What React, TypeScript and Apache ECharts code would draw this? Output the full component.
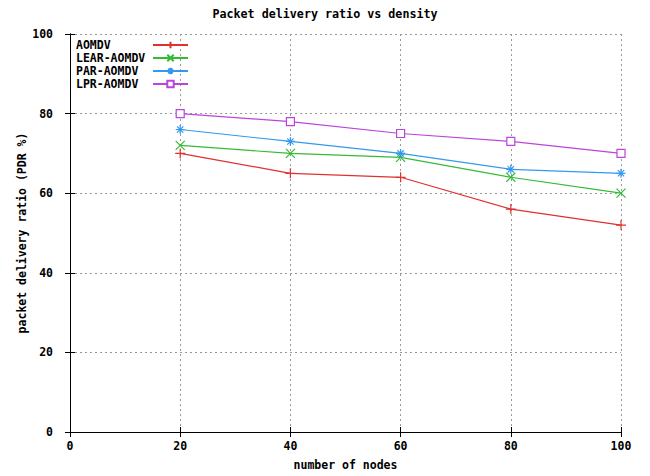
import React, { useEffect, useRef } from "react";
import * as echarts from "echarts";

const nodes = [20, 40, 60, 80, 100];
const aomdv = [70, 65, 64, 56, 52];
const learAomdv = [72, 70, 69, 64, 60];
const parAomdv = [76, 73, 70, 66, 65];
const lprAomdv = [80, 78, 75, 73, 70];

const seriesNames = ["AOMDV", "LEAR-AOMDV", "PAR-AOMDV", "LPR-AOMDV"];
const seriesColors = ["#e03030", "#33bb33", "#3399ee", "#bb44dd"];
const seriesSymbols = [
  "path://M5,0L5,10M0,5L10,5",
  "path://M0,0L10,10M0,10L10,0",
  "path://M5,0L5,10M0,5L10,5M1.5,1.5L8.5,8.5M1.5,8.5L8.5,1.5",
  "path://M0,0L10,0L10,10L0,10Z",
];
const seriesSizes = [10, 9, 9, 8];
const seriesData = [aomdv, learAomdv, parAomdv, lprAomdv];

const FONT = "'DejaVu Sans Mono', 'Liberation Mono', monospace";

export default function App() {
  const ref = useRef<HTMLDivElement>(null);
  useEffect(() => {
    if (!ref.current) return;
    const chart = echarts.init(ref.current, undefined, { renderer: "svg" });
    const txt = { fontFamily: FONT, fontWeight: "bold" as const, fontSize: 11.5, color: "#000" };
    const gridLine = { show: true, lineStyle: { color: "#999", type: [2, 3] as any, width: 1 } };
    chart.setOption({
      animation: false,
      backgroundColor: "#fff",
      title: {
        text: "Packet delivery ratio vs density",
        left: "center",
        top: 3,
        textStyle: { ...txt, fontSize: 11.7 },
      },
      legend: {
        orient: "vertical",
        left: 71,
        top: 34,
        align: "right",
        itemWidth: 35,
        itemHeight: 8,
        itemGap: 1,
        data: seriesNames,
        formatter: (name: string) => "{a|" + name + "}",
        textStyle: {
          ...txt,
          lineHeight: 12,
          rich: { a: { ...txt, width: 72, align: "left", lineHeight: 12 } },
        },
      },
      grid: { left: 70, right: 29, top: 34, bottom: 41 },
      xAxis: [
        {
          type: "value",
          min: 0,
          max: 100,
          interval: 20,
          name: "number of nodes",
          nameLocation: "middle",
          nameGap: 27,
          nameTextStyle: txt,
          axisLine: { show: true, lineStyle: { color: "#000", width: 1 } },
          axisTick: { show: true, inside: true, length: 5, lineStyle: { color: "#000" } },
          axisLabel: { ...txt, margin: 8 },
          splitLine: gridLine,
        },
        {
          type: "value",
          position: "top",
          min: 0,
          max: 100,
          interval: 20,
          axisLine: { show: true, lineStyle: { color: "#000", width: 1 } },
          axisTick: { show: true, inside: true, length: 5, lineStyle: { color: "#000" } },
          axisLabel: { show: false },
          splitLine: { show: false },
        },
      ],
      yAxis: [
        {
          type: "value",
          min: 0,
          max: 100,
          interval: 20,
          name: "packet delivery ratio (PDR %)",
          nameLocation: "middle",
          nameGap: 42,
          nameMoveOverlap: false,
          nameTextStyle: txt,
          axisLine: { show: true, lineStyle: { color: "#000", width: 1 } },
          axisTick: { show: true, inside: true, length: 5, lineStyle: { color: "#000" } },
          axisLabel: { ...txt, margin: 17 },
          splitLine: gridLine,
        },
        {
          type: "value",
          position: "right",
          min: 0,
          max: 100,
          interval: 20,
          axisLine: { show: true, lineStyle: { color: "#000", width: 1 } },
          axisTick: { show: true, inside: true, length: 5, lineStyle: { color: "#000" } },
          axisLabel: { show: false },
          splitLine: { show: false },
        },
      ],
      series: seriesNames.map((name, i) => ({
        name,
        type: "line",
        xAxisIndex: 0,
        yAxisIndex: 0,
        data: nodes.map((n, j) => [n, seriesData[i][j]]),
        symbol: seriesSymbols[i],
        symbolSize: seriesSizes[i],
        showAllSymbol: true,
        lineStyle: { color: seriesColors[i], width: 1.2, type: "solid" },
        itemStyle: {
          color: i === 3 ? "#fff" : "rgba(255,255,255,0)",
          borderColor: seriesColors[i],
          borderWidth: 1.2,
        },
        emphasis: { disabled: true },
      })),
    });
    return () => chart.dispose();
  }, []);
  return <div ref={ref} style={{ width: 650, height: 476, position: "absolute", left: 0, top: 0 }} />;
}
